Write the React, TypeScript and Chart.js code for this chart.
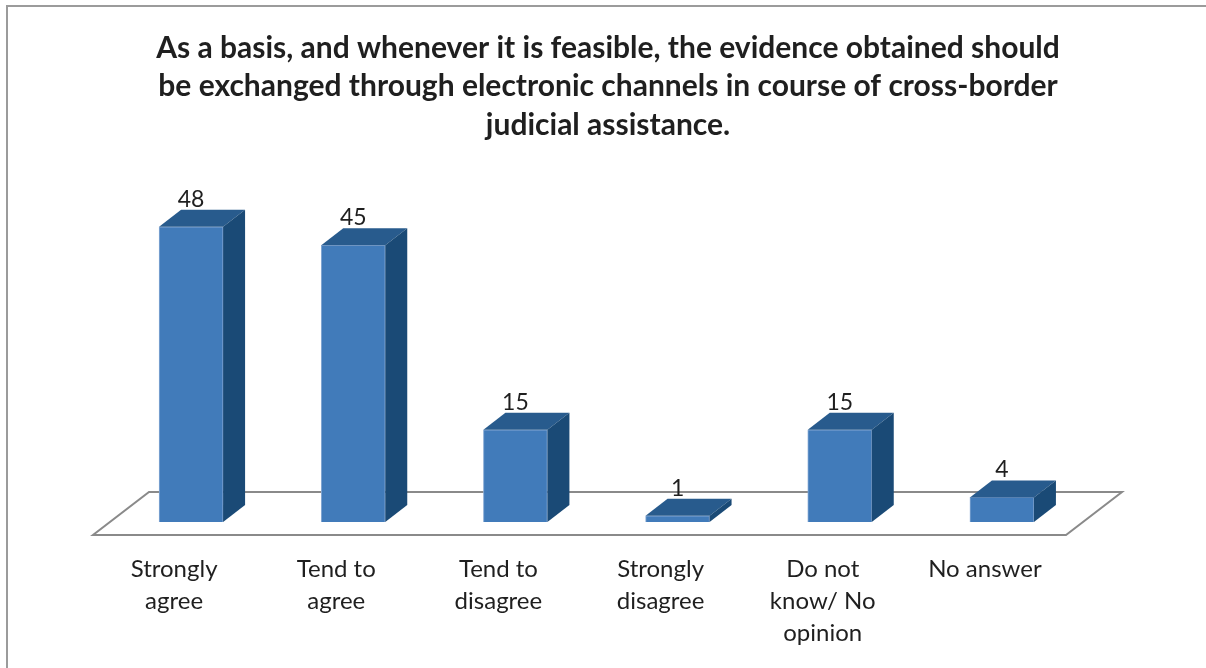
import React, { useEffect, useRef } from "react";
import { Chart, registerables } from "chart.js";

Chart.register(...registerables);

const titleLines = [
  "As a basis, and whenever it is feasible, the evidence obtained should",
  "be exchanged through electronic channels in course of cross-border",
  "judicial assistance.",
];
const categories: string[][] = [
  ["Strongly", "agree"],
  ["Tend to", "agree"],
  ["Tend to", "disagree"],
  ["Strongly", "disagree"],
  ["Do not", "know/ No", "opinion"],
  ["No answer"],
];
const values = [48, 45, 15, 1, 15, 4];

const FONT = "Lato, 'Open Sans', sans-serif";
const DX = 22;
const DY = 17;

const framePlugin = {
  id: "frame",
  beforeDraw(chart: any) {
    const ctx = chart.ctx;
    ctx.save();
    ctx.fillStyle = "#ffffff";
    ctx.fillRect(0, 0, chart.width, chart.height);
    ctx.strokeStyle = "#9b9b9b";
    ctx.lineWidth = 2;
    ctx.beginPath();
    ctx.moveTo(7, chart.height);
    ctx.lineTo(7, 6);
    ctx.lineTo(chart.width, 6);
    ctx.stroke();
    ctx.fillStyle = "#1f1f1f";
    ctx.font = `bold 30px ${FONT}`;
    ctx.textAlign = "center";
    ctx.textBaseline = "middle";
    titleLines.forEach((line, i) => {
      ctx.fillText(line, 608, 48 + i * 38.5);
    });
    ctx.restore();
  },
};

const floorPlugin = {
  id: "floor3d",
  beforeDatasetsDraw(chart: any) {
    const { ctx, chartArea } = chart;
    const b = chartArea.bottom;
    const l = chartArea.left;
    const r = chartArea.right;
    ctx.save();
    ctx.strokeStyle = "#8a8a8a";
    ctx.lineWidth = 2;
    ctx.fillStyle = "#ffffff";
    ctx.beginPath();
    ctx.moveTo(l - 17, b + 13);
    ctx.lineTo(r - 17, b + 13);
    ctx.lineTo(r + 39, b - 30);
    ctx.lineTo(l + 39, b - 30);
    ctx.closePath();
    ctx.fill();
    ctx.stroke();
    ctx.restore();
  },
  afterDatasetsDraw(chart: any) {
    const { ctx } = chart;
    const meta = chart.getDatasetMeta(0);
    const data = chart.data.datasets[0].data;
    ctx.save();
    meta.data.forEach((bar: any, i: number) => {
      const w = bar.width;
      const left = bar.x - w / 2;
      const right = bar.x + w / 2;
      const top = bar.y;
      const base = bar.base;
      ctx.fillStyle = "#285b8d";
      ctx.beginPath();
      ctx.moveTo(left, top);
      ctx.lineTo(left + DX, top - DY);
      ctx.lineTo(right + DX, top - DY);
      ctx.lineTo(right, top);
      ctx.closePath();
      ctx.fill();
      ctx.fillStyle = "#1a4a76";
      ctx.beginPath();
      ctx.moveTo(right, top);
      ctx.lineTo(right + DX, top - DY);
      ctx.lineTo(right + DX, base - DY);
      ctx.lineTo(right, base);
      ctx.closePath();
      ctx.fill();
      ctx.fillStyle = "#1f1f1f";
      ctx.font = `23px ${FONT}`;
      ctx.textAlign = "center";
      ctx.textBaseline = "bottom";
      ctx.fillText(String(data[i]), bar.x, top - DY + 1);
    });
    ctx.restore();
  },
};

export default function App() {
  const ref = useRef<HTMLCanvasElement>(null);
  useEffect(() => {
    if (!ref.current) return;
    const chart = new Chart(ref.current, {
      type: "bar",
      data: {
        labels: categories,
        datasets: [
          {
            data: values,
            backgroundColor: "#417bba",
            borderColor: "#86a9d4",
            borderWidth: 1,
            barThickness: 64,
          },
        ],
      },
      options: {
        animation: false,
        responsive: false,
        layout: { padding: { top: 153, left: 110, right: 123, bottom: 0 } },
        plugins: {
          legend: { display: false },
          tooltip: { enabled: false },
          title: { display: false },
        },
        scales: {
          x: {
            grid: { display: false, drawTicks: false },
            border: { display: false },
            ticks: {
              color: "#1f1f1f",
              font: { family: FONT, size: 24, lineHeight: "32px" },
              padding: 31,
              labelOffset: -17,
              maxRotation: 0,
              autoSkip: false,
            },
            afterFit: (scale: any) => {
              scale.height = 146;
            },
          },
          y: {
            display: false,
            min: 0,
            max: 60,
          },
        },
      },
      plugins: [framePlugin, floorPlugin],
    } as any);
    return () => chart.destroy();
  }, []);
  return (
    <div style={{ position: "fixed", left: 0, top: 0, width: 1206, height: 668 }}>
      <canvas ref={ref} width={1206} height={668} style={{ display: "block" }} />
    </div>
  );
}
